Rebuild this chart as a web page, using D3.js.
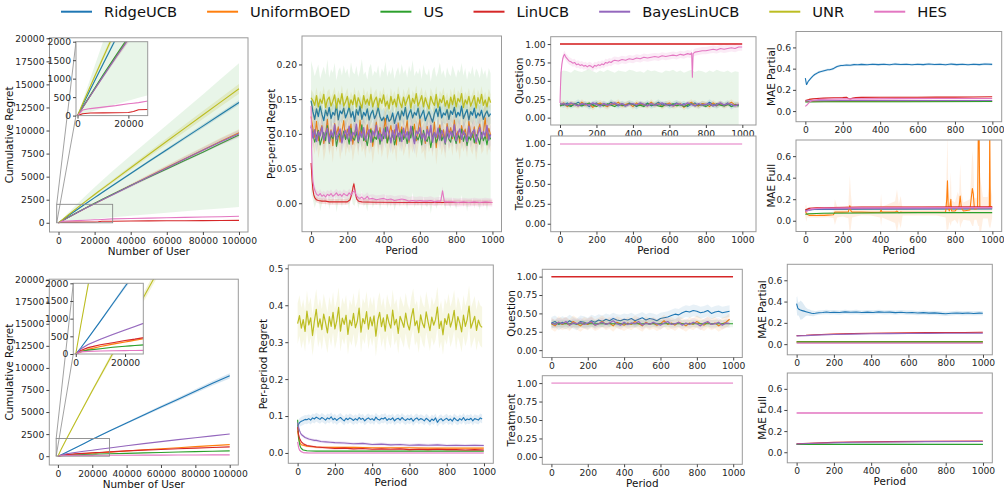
<!DOCTYPE html>
<html><head><meta charset="utf-8">
<script src="https://cdn.jsdelivr.net/npm/d3@7"></script>
<style>body{margin:0;background:#fff}svg{display:block}text{font-family:"DejaVu Sans",sans-serif}</style>
</head><body>
<script>
// ---------------- DATA ----------------
const methods = ["RidgeUCB","UniformBOED","US","LinUCB","BayesLinUCB","UNR","HES"];
const colors  = ["#1f77b4","#ff7f0e","#2ca02c","#d62728","#9467bd","#bcbd22","#e377c2"];

const cumTicks = [0,2500,5000,7500,10000,12500,15000,17500,20000];
const userTicks = [0,20000,40000,60000,80000,100000];
const insetYTicks = [0,500,1000,1500,2000];
const insetXTicks = [0,20000];
const periodTicks = [0,200,400,600,800,1000];
const ppTopTicks = [0,0.05,0.10,0.15,0.20];
const ppBotTicks = [0,0.1,0.2,0.3,0.4,0.5];
const shareTicks = [0,0.25,0.5,0.75,1.0];
const maeTicks = [0,0.2,0.4,0.6];

// cumulative regret (x = number of users)
const cumX = [0,2000,5000,10000,15000,20000,22000,24000,30000,40000,50000,60000,70000,80000,90000,100000];
const cumTopRidge   = [0,280,700,1390,2070,2730,2990,3260,4040,5340,6640,7920,9200,10480,11760,13040];
const cumTopRidgeSd = [0,8,20,40,55,70,75,80,100,120,140,160,180,200,220,240];
const cumTopUniform = [0,215,535,1065,1580,2080,2280,2480,3070,4050,5020,5990,6950,7900,8850,9750];
const cumTopUS      = [0,220,550,1095,1615,2125,2320,2515,3095,4030,4935,5840,6745,7650,8580,9510];
const cumTopUSSd    = [0,180,450,895,1310,1725,1880,2035,2505,3270,4015,4760,5505,6250,7020,7790];
const cumTopLin     = [0,50,70,75,78,82,110,160,170,190,205,215,225,235,245,255];
const cumTopBayes   = [0,212,530,1055,1565,2065,2265,2460,3050,4020,4990,5950,6900,7850,8780,9650];
const cumTopSpread  = [0,10,25,50,70,90,95,100,120,160,200,240,280,320,360,400];
const cumTopUNR     = [0,320,790,1560,2320,3060,3360,3650,4520,5960,7400,8830,10260,11680,13100,14520];
const cumTopUNRSd   = [0,15,35,70,100,130,140,150,180,230,280,330,380,430,480,530];
const cumTopHES     = [0,150,190,230,270,320,335,350,420,460,500,540,580,620,660,700];

const cumBotRidge   = [0,170,450,930,1420,1910,2100,2290,2860,3760,4660,5560,6460,7360,8260,9100];
const cumBotRidgeSd = [0,5,15,30,45,60,65,70,85,110,140,170,200,230,260,290];
const cumBotUniform = [0,60,130,210,280,340,365,390,460,590,720,840,960,1080,1200,1310];
const cumBotUS      = [0,70,110,150,190,220,230,240,270,320,370,420,470,510,560,600];
const cumBotLin     = [0,100,180,260,320,380,400,420,490,600,680,760,840,910,980,1050];
const cumBotBayes   = [0,140,270,420,550,680,730,780,930,1180,1420,1650,1870,2090,2300,2510];
const cumBotUNR     = [0,800,1950,3800,5600,7400,8110,8820,10950,14500,18050,21600,25150,28700,32250,35800];
const cumBotUNRSd   = [0,20,50,100,150,200,220,240,300,400,500,600,700,800,900,1000];
const cumBotHES     = [0,60,75,85,90,95,97,99,105,112,118,124,130,137,143,150];

// per-period regret, top row (sampled every 10 periods)
const ppTopUNR = [0.152,0.148,0.141,0.155,0.139,0.150,0.144,0.157,0.138,0.149,0.153,0.140,0.147,0.156,0.137,0.151,0.143,0.158,0.140,0.146,0.154,0.138,0.149,0.142,0.156,0.139,0.152,0.145,0.137,0.155,0.143,0.150,0.141,0.157,0.139,0.148,0.153,0.138,0.151,0.144,0.156,0.140,0.147,0.136,0.154,0.142,0.150,0.139,0.157,0.145,0.138,0.153,0.141,0.149,0.156,0.137,0.151,0.144,0.158,0.140,0.147,0.155,0.139,0.152,0.143,0.136,0.154,0.146,0.141,0.157,0.138,0.150,0.145,0.155,0.140,0.148,0.137,0.153,0.142,0.156,0.139,0.151,0.146,0.158,0.138,0.149,0.143,0.154,0.140,0.147,0.155,0.137,0.152,0.144,0.157,0.141,0.149,0.139,0.153,0.145];
const ppTopRidge = [0.148,0.132,0.121,0.136,0.125,0.140,0.128,0.119,0.134,0.126,0.138,0.122,0.131,0.127,0.141,0.120,0.133,0.129,0.137,0.123,0.130,0.139,0.124,0.132,0.118,0.135,0.127,0.140,0.121,0.131,0.126,0.136,0.120,0.129,0.134,0.122,0.128,0.138,0.125,0.119,0.124,0.116,0.127,0.118,0.121,0.130,0.115,0.125,0.132,0.120,0.133,0.126,0.138,0.121,0.129,0.135,0.123,0.131,0.127,0.137,0.122,0.128,0.134,0.119,0.126,0.132,0.124,0.117,0.129,0.136,0.125,0.139,0.123,0.130,0.127,0.135,0.121,0.133,0.128,0.138,0.124,0.131,0.126,0.140,0.122,0.129,0.135,0.120,0.132,0.127,0.137,0.123,0.130,0.126,0.134,0.121,0.128,0.133,0.125,0.129];
const ppTopUniform = [0.125,0.108,0.095,0.118,0.090,0.104,0.112,0.086,0.100,0.121,0.094,0.106,0.083,0.115,0.099,0.110,0.088,0.103,0.119,0.092,0.107,0.097,0.114,0.085,0.101,0.111,0.093,0.120,0.098,0.105,0.089,0.113,0.096,0.108,0.082,0.102,0.117,0.094,0.109,0.091,0.104,0.122,0.087,0.100,0.112,0.095,0.106,0.084,0.116,0.099,0.110,0.093,0.103,0.119,0.088,0.107,0.097,0.114,0.090,0.105,0.121,0.096,0.101,0.086,0.111,0.098,0.108,0.092,0.117,0.080,0.103,0.113,0.094,0.106,0.089,0.115,0.100,0.109,0.093,0.120,0.097,0.104,0.087,0.112,0.099,0.107,0.091,0.118,0.102,0.095,0.110,0.086,0.105,0.114,0.096,0.101,0.123,0.093,0.108,0.098];
const ppTopUS = [0.110,0.100,0.088,0.097,0.105,0.084,0.094,0.102,0.090,0.112,0.086,0.098,0.093,0.107,0.082,0.096,0.101,0.089,0.104,0.092,0.099,0.085,0.108,0.094,0.091,0.103,0.087,0.097,0.113,0.090,0.095,0.083,0.100,0.106,0.088,0.096,0.092,0.104,0.085,0.099,0.093,0.109,0.087,0.097,0.090,0.102,0.084,0.095,0.101,0.089,0.106,0.092,0.098,0.086,0.103,0.094,0.111,0.088,0.096,0.091,0.100,0.084,0.105,0.093,0.089,0.099,0.080,0.096,0.102,0.087,0.094,0.108,0.090,0.097,0.085,0.101,0.092,0.088,0.104,0.095,0.086,0.098,0.093,0.107,0.089,0.100,0.083,0.096,0.091,0.103,0.087,0.099,0.094,0.085,0.102,0.090,0.097,0.084,0.100,0.092];
const ppTopBayes = [0.112,0.094,0.106,0.089,0.103,0.097,0.110,0.091,0.101,0.108,0.088,0.104,0.096,0.113,0.092,0.100,0.107,0.087,0.099,0.105,0.093,0.111,0.090,0.102,0.098,0.114,0.089,0.103,0.095,0.109,0.091,0.100,0.106,0.088,0.104,0.097,0.112,0.093,0.101,0.090,0.107,0.094,0.110,0.099,0.087,0.105,0.092,0.113,0.096,0.102,0.089,0.108,0.095,0.103,0.091,0.111,0.098,0.086,0.104,0.100,0.109,0.093,0.101,0.090,0.106,0.097,0.112,0.088,0.102,0.095,0.108,0.091,0.105,0.099,0.087,0.110,0.094,0.103,0.096,0.113,0.090,0.101,0.107,0.092,0.104,0.098,0.089,0.111,0.095,0.102,0.106,0.088,0.100,0.109,0.093,0.103,0.097,0.112,0.091,0.099];
const ppTopLin = [[0,0.058],[3,0.045],[6,0.032],[10,0.02],[15,0.012],[20,0.008],[30,0.005],[40,0.004],[60,0.003],[80,0.003],[100,0.002],[150,0.002],[200,0.002],[215,0.005],[225,0.014],[232,0.024],[236,0.028],[240,0.022],[245,0.013],[252,0.006],[262,0.003],[280,0.002],[350,0.0015],[500,0.001],[700,0.001],[999,0.001]];
const ppTopHES = [[0,0.140],[3,0.080],[6,0.050],[10,0.032],[15,0.024],[20,0.019],[25,0.016],[30,0.013],[40,0.011],[50,0.014],[60,0.010],[70,0.012],[80,0.009],[90,0.013],[100,0.011],[110,0.014],[120,0.010],[130,0.012],[140,0.015],[150,0.011],[160,0.013],[170,0.010],[180,0.014],[190,0.012],[200,0.011],[210,0.015],[220,0.012],[230,0.016],[240,0.018],[250,0.011],[260,0.008],[270,0.007],[280,0.009],[290,0.006],[300,0.007],[310,0.010],[320,0.006],[340,0.007],[360,0.005],[380,0.006],[400,0.007],[420,0.005],[440,0.006],[460,0.004],[480,0.005],[500,0.006],[520,0.005],[540,0.003],[560,0.004],[580,0.003],[600,0.004],[620,0.003],[640,0.003],[660,0.004],[680,0.002],[700,0.003],[715,0.003],[725,0.018],[735,0.002],[750,0.002],[780,0.002],[810,0.001],[840,0.002],[870,0.001],[900,0.002],[930,0.001],[960,0.002],[999,0.001]];

// per-period regret, bottom row
const ppBotUNR = [0.350,0.372,0.338,0.361,0.329,0.384,0.347,0.366,0.318,0.357,0.389,0.341,0.363,0.334,0.376,0.352,0.325,0.369,0.343,0.381,0.336,0.358,0.394,0.330,0.365,0.348,0.373,0.321,0.360,0.345,0.378,0.339,0.356,0.392,0.327,0.364,0.350,0.383,0.335,0.368,0.344,0.371,0.316,0.359,0.381,0.342,0.366,0.330,0.375,0.353,0.338,0.387,0.347,0.362,0.324,0.370,0.356,0.340,0.379,0.349,0.333,0.367,0.391,0.345,0.358,0.326,0.374,0.351,0.339,0.382,0.355,0.331,0.368,0.346,0.361,0.395,0.337,0.357,0.320,0.364,0.348,0.377,0.341,0.359,0.386,0.334,0.369,0.352,0.328,0.373,0.343,0.362,0.398,0.338,0.354,0.370,0.332,0.360,0.345,0.340];
const ppBotRidge = [0.072,0.082,0.086,0.088,0.091,0.090,0.093,0.089,0.095,0.092,0.097,0.094,0.091,0.096,0.093,0.089,0.095,0.092,0.098,0.090,0.094,0.088,0.093,0.096,0.091,0.087,0.094,0.090,0.095,0.092,0.088,0.093,0.089,0.096,0.091,0.094,0.087,0.092,0.095,0.090,0.093,0.088,0.097,0.091,0.089,0.094,0.092,0.096,0.088,0.093,0.090,0.095,0.087,0.092,0.094,0.089,0.096,0.091,0.088,0.093,0.090,0.094,0.086,0.092,0.095,0.089,0.093,0.091,0.087,0.094,0.090,0.085,0.092,0.088,0.095,0.083,0.090,0.093,0.087,0.091,0.094,0.088,0.092,0.086,0.095,0.090,0.087,0.093,0.089,0.096,0.088,0.092,0.090,0.094,0.087,0.093,0.091,0.089,0.095,0.092];
const ppBotBayes = [[0,0.082],[5,0.07],[10,0.061],[15,0.055],[20,0.05],[30,0.046],[40,0.042],[50,0.04],[60,0.038],[75,0.036],[90,0.034],[100,0.034],[125,0.031],[150,0.03],[175,0.029],[200,0.028],[250,0.027],[300,0.025],[350,0.026],[400,0.023],[450,0.024],[500,0.022],[550,0.023],[600,0.021],[650,0.022],[700,0.021],[750,0.022],[800,0.02],[850,0.021],[900,0.02],[950,0.021],[999,0.02]];
const ppBotLin = [[0,0.07],[5,0.05],[10,0.04],[20,0.03],[30,0.025],[50,0.02],[75,0.018],[100,0.016],[150,0.014],[200,0.012],[250,0.013],[300,0.011],[350,0.012],[400,0.01],[450,0.011],[500,0.01],[550,0.011],[600,0.009],[650,0.01],[700,0.009],[750,0.01],[800,0.009],[850,0.009],[900,0.008],[950,0.009],[999,0.008]];
const ppBotUniform = [[0,0.06],[5,0.04],[10,0.03],[20,0.022],[50,0.018],[100,0.016],[200,0.015],[300,0.015],[400,0.014],[500,0.014],[600,0.014],[700,0.013],[800,0.013],[900,0.013],[999,0.013]];
const ppBotUS = [[0,0.09],[3,0.06],[6,0.04],[10,0.025],[15,0.016],[20,0.012],[30,0.008],[50,0.006],[100,0.005],[999,0.005]];
const ppBotHES = [[0,0.03],[5,0.015],[10,0.008],[20,0.003],[30,0.001],[60,0.0],[999,0.0]];

// question share (sampled every 20 periods)
const qTopRidge   = [0.19,0.17,0.20,0.16,0.18,0.21,0.17,0.19,0.15,0.18,0.20,0.16,0.19,0.17,0.21,0.18,0.16,0.19,0.17,0.20,0.18,0.15,0.19,0.17,0.20,0.16,0.18,0.21,0.17,0.19,0.16,0.18,0.20,0.17,0.19,0.15,0.18,0.20,0.16,0.19,0.17,0.21,0.18,0.16,0.19,0.17,0.20,0.15,0.18,0.17];
const qTopUniform = [0.17,0.20,0.15,0.19,0.18,0.16,0.21,0.17,0.19,0.14,0.18,0.20,0.17,0.15,0.19,0.18,0.21,0.16,0.18,0.19,0.15,0.20,0.17,0.18,0.16,0.21,0.17,0.19,0.15,0.18,0.20,0.16,0.17,0.19,0.14,0.18,0.21,0.17,0.16,0.19,0.18,0.15,0.20,0.17,0.19,0.16,0.18,0.21,0.17,0.18];
const qTopUS      = [0.16,0.18,0.17,0.15,0.19,0.17,0.16,0.18,0.20,0.17,0.15,0.18,0.16,0.19,0.17,0.15,0.18,0.17,0.16,0.19,0.18,0.16,0.17,0.15,0.19,0.17,0.18,0.16,0.15,0.18,0.17,0.19,0.16,0.18,0.15,0.17,0.19,0.16,0.18,0.17,0.15,0.18,0.16,0.19,0.17,0.16,0.18,0.15,0.17,0.16];
const qTopBayes   = [0.18,0.19,0.17,0.20,0.18,0.16,0.19,0.18,0.17,0.20,0.18,0.16,0.19,0.17,0.18,0.20,0.17,0.19,0.16,0.18,0.19,0.17,0.20,0.18,0.16,0.19,0.17,0.18,0.20,0.17,0.18,0.16,0.19,0.18,0.17,0.20,0.18,0.16,0.19,0.17,0.18,0.19,0.16,0.18,0.20,0.17,0.19,0.18,0.16,0.18];
const qTopLin = [[0,1],[999,1]];
const qTopHES = [[0,0.20],[3,0.45],[6,0.62],[10,0.72],[15,0.80],[20,0.84],[25,0.86],[30,0.83],[40,0.80],[50,0.77],[60,0.76],[70,0.74],[80,0.75],[90,0.72],[100,0.73],[110,0.71],[120,0.72],[130,0.70],[140,0.71],[150,0.69],[160,0.71],[170,0.70],[180,0.68],[190,0.71],[200,0.70],[210,0.72],[220,0.71],[230,0.73],[240,0.72],[250,0.75],[260,0.74],[270,0.76],[280,0.75],[290,0.77],[300,0.78],[320,0.77],[340,0.79],[360,0.78],[380,0.80],[400,0.79],[420,0.81],[440,0.80],[460,0.82],[480,0.81],[500,0.82],[520,0.83],[540,0.82],[560,0.84],[580,0.83],[600,0.84],[620,0.85],[640,0.84],[660,0.86],[680,0.85],[700,0.87],[715,0.86],[722,0.88],[726,0.55],[730,0.87],[740,0.89],[760,0.90],[780,0.91],[800,0.91],[820,0.92],[840,0.93],[860,0.92],[880,0.94],[900,0.93],[920,0.94],[940,0.95],[960,0.94],[980,0.96],[999,0.96]];
const tTopHES = [[0,1],[999,1]];

const qBotRidge   = [0.37,0.39,0.35,0.38,0.36,0.40,0.37,0.35,0.39,0.38,0.36,0.40,0.38,0.41,0.39,0.42,0.40,0.43,0.41,0.40,0.42,0.41,0.43,0.40,0.42,0.44,0.41,0.43,0.42,0.40,0.43,0.44,0.45,0.47,0.49,0.48,0.51,0.53,0.52,0.54,0.53,0.51,0.52,0.54,0.50,0.52,0.53,0.51,0.52,0.53];
const qBotUniform = [0.36,0.33,0.38,0.35,0.37,0.34,0.39,0.36,0.33,0.37,0.35,0.38,0.34,0.36,0.39,0.35,0.37,0.33,0.38,0.36,0.34,0.37,0.35,0.39,0.36,0.33,0.38,0.35,0.37,0.34,0.36,0.40,0.35,0.37,0.34,0.38,0.36,0.33,0.37,0.35,0.39,0.36,0.34,0.38,0.35,0.37,0.33,0.36,0.38,0.42];
const qBotBayes   = [0.37,0.35,0.38,0.36,0.39,0.34,0.37,0.36,0.38,0.35,0.37,0.39,0.34,0.36,0.38,0.35,0.37,0.40,0.36,0.34,0.38,0.35,0.37,0.36,0.39,0.34,0.37,0.35,0.38,0.36,0.34,0.37,0.39,0.35,0.36,0.38,0.34,0.37,0.35,0.38,0.36,0.33,0.37,0.39,0.35,0.36,0.38,0.34,0.37,0.36];
const qBotUS  = [[0,0.36],[999,0.36]];
const qBotLin = [[0,1],[999,1]];
const tBotHES = [[0,1],[999,1]];

// MAE
const maePTopRidge = [[0,0.31],[3,0.28],[6,0.25],[10,0.26],[15,0.28],[20,0.29],[30,0.31],[40,0.33],[50,0.345],[60,0.355],[70,0.365],[80,0.37],[90,0.375],[100,0.38],[110,0.385],[120,0.39],[130,0.39],[140,0.395],[150,0.40],[160,0.41],[170,0.42],[180,0.425],[190,0.43],[200,0.43],[220,0.435],[240,0.432],[260,0.438],[280,0.436],[300,0.44],[330,0.437],[360,0.442],[390,0.438],[420,0.441],[450,0.437],[480,0.443],[510,0.439],[540,0.441],[570,0.437],[600,0.442],[630,0.438],[660,0.444],[690,0.439],[720,0.441],[750,0.437],[780,0.443],[810,0.438],[840,0.441],[870,0.437],[900,0.442],[930,0.438],[960,0.444],[999,0.44]];
const maePTopLin = [[0,0.10],[10,0.105],[20,0.11],[40,0.115],[60,0.118],[100,0.122],[150,0.125],[200,0.128],[220,0.13],[230,0.118],[240,0.115],[255,0.122],[270,0.127],[300,0.129],[400,0.13],[500,0.131],[600,0.131],[700,0.132],[800,0.132],[900,0.133],[999,0.135]];
const maePTopHES = [[0,0.045],[10,0.06],[20,0.08],[30,0.095],[50,0.105],[80,0.11],[120,0.112],[200,0.115],[300,0.115],[500,0.117],[700,0.118],[999,0.118]];
const maePTopBayes = [[0,0.095],[50,0.098],[200,0.1],[500,0.1],[999,0.1]];
const maePTopUniform = [[0,0.09],[100,0.09],[500,0.092],[999,0.093]];
const maePTopUS = [[0,0.085],[100,0.088],[500,0.088],[999,0.09]];

const maeFTopUniform = [[0,0.09,0.05],[5,0.07,0.08],[10,0.06,0.03],[20,0.05,0.02],[40,0.05,0.02],[60,0.048,0.02],[80,0.05,0.02],[100,0.05,0.02],[120,0.052,0.02],[150,0.055,0.03],[158,0.08,0.12],[170,0.08,0.05],[200,0.08,0.04],[230,0.082,0.06],[238,0.14,0.28],[244,0.09,0.15],[250,0.08,0.05],[300,0.08,0.03],[350,0.078,0.03],[400,0.08,0.05],[405,0.1,0.15],[410,0.08,0.05],[480,0.08,0.1],[490,0.09,0.2],[500,0.075,0.08],[510,0.08,0.15],[520,0.078,0.03],[600,0.078,0.03],[700,0.078,0.03],[750,0.08,0.05],[756,0.2,0.3],[760,0.37,0.45],[764,0.12,0.2],[770,0.09,0.1],[778,0.2,0.25],[782,0.09,0.1],[800,0.09,0.08],[815,0.12,0.15],[822,0.13,0.1],[828,0.23,0.3],[834,0.12,0.15],[845,0.09,0.08],[880,0.1,0.1],[893,0.3,0.35],[898,0.25,0.3],[904,0.11,0.1],[915,0.11,0.1],[921,0.12,0.15],[925,0.85,0.9],[929,0.85,0.9],[933,0.12,0.3],[950,0.12,0.1],[975,0.12,0.1],[984,0.13,0.2],[986,0.85,0.9],[989,0.13,0.2],[999,0.13,0.1]];
const maeFTopUS = [[0,0.06],[20,0.065],[100,0.07],[300,0.072],[600,0.075],[999,0.075]];
const maeFTopRidge = [[0,0.1],[50,0.105],[300,0.108],[999,0.11]];
const maeFTopLin = [[0,0.1],[20,0.115],[60,0.12],[150,0.123],[300,0.127],[600,0.128],[999,0.13]];
const maeFTopBayes = [[0,0.09],[50,0.11],[300,0.115],[999,0.12]];
const maeFTopHES = [[0,0.08],[30,0.11],[100,0.118],[500,0.12],[999,0.122]];

const maePBotRidge = [[0,0.38,0.06],[3,0.36,0.09],[6,0.34,0.07],[10,0.33,0.06],[15,0.325,0.07],[20,0.32,0.09],[30,0.315,0.08],[40,0.31,0.06],[50,0.305,0.04],[60,0.30,0.03],[70,0.295,0.03],[80,0.29,0.025],[90,0.288,0.025],[100,0.29,0.02],[120,0.295,0.02],[140,0.298,0.02],[160,0.302,0.02],[180,0.298,0.02],[200,0.30,0.02],[230,0.297,0.02],[260,0.303,0.02],[290,0.299,0.02],[320,0.302,0.02],[350,0.297,0.02],[380,0.301,0.02],[410,0.298,0.02],[440,0.303,0.02],[470,0.299,0.02],[500,0.301,0.02],[530,0.296,0.02],[560,0.300,0.02],[590,0.295,0.02],[620,0.297,0.02],[650,0.292,0.02],[680,0.296,0.02],[710,0.291,0.02],[740,0.294,0.02],[770,0.289,0.02],[800,0.285,0.02],[830,0.29,0.02],[860,0.293,0.02],[890,0.289,0.02],[920,0.292,0.02],[950,0.288,0.02],[980,0.291,0.02],[999,0.29,0.02]];
const maePBotLin = [[0,0.08],[50,0.083],[100,0.088],[200,0.095],[300,0.1],[400,0.102],[500,0.105],[600,0.106],[700,0.108],[800,0.11],[900,0.11],[999,0.112]];
const maePBotBayes = [[0,0.078],[50,0.08],[100,0.085],[200,0.09],[300,0.094],[400,0.097],[500,0.099],[600,0.1],[700,0.101],[800,0.102],[999,0.103]];
const maePBotUniform = [[0,0.022],[999,0.022]];
const maePBotUS = [[0,0.02],[999,0.02]];
const maePBotHES = [[0,0.01],[999,0.01]];

const maeFBotHES = [[0,0.372],[999,0.372]];
const maeFBotLin = [[0,0.08],[100,0.088],[200,0.093],[300,0.097],[500,0.1],[700,0.103],[999,0.105]];
const maeFBotBayes = [[0,0.078],[100,0.085],[200,0.09],[300,0.094],[500,0.097],[700,0.1],[999,0.102]];
const maeFBotRidge = [[0,0.075],[999,0.073]];
const maeFBotUS = [[0,0.074],[999,0.074]];

// ---------------- DRAW ----------------
const [CB,CO,CG,CR,CP,CY,CK] = colors;
const TICK_FS = 9.2, LABEL_FS = 10.4;
const zip = (xs, ys, sds) => ys.map((v,i)=> sds ? [xs[i], v, sds[i]] : [xs[i], v]);
const grid = (step, ys) => ys.map((v,i)=>[i*step, v]);

const svg = d3.select("body").append("svg").attr("width",1004).attr("height",491);
let clipN = 0;

function panel(p){
  const g = svg.append("g");
  const xs = d3.scaleLinear().domain(p.xd).range([p.x0,p.x1]);
  const ys = d3.scaleLinear().domain(p.yd).range([p.y1,p.y0]);
  g.append("rect").attr("x",p.x0).attr("y",p.y0).attr("width",p.x1-p.x0).attr("height",p.y1-p.y0).attr("fill","#fff");
  const id = "clip"+(clipN++);
  svg.append("clipPath").attr("id",id).append("rect").attr("x",p.x0).attr("y",p.y0).attr("width",p.x1-p.x0).attr("height",p.y1-p.y0);
  const pg = g.append("g").attr("clip-path",`url(#${id})`);
  p.series.forEach(s=>{
    if(s.sd!==undefined){
      const sdv = d => d.length>2 ? d[2] : s.sd;
      const area = d3.area().x(d=>xs(d[0])).y0(d=>ys(d[1]-sdv(d))).y1(d=>ys(d[1]+sdv(d)));
      pg.append("path").attr("d",area(s.d)).attr("fill",s.c).attr("fill-opacity",s.bo||0.15).attr("stroke","none");
    }
    const line = d3.line().x(d=>xs(d[0])).y(d=>ys(d[1]));
    pg.append("path").attr("d",line(s.d)).attr("fill","none").attr("stroke",s.c)
      .attr("stroke-width",s.w||1.1).attr("stroke-opacity",s.op||1).attr("stroke-linejoin","round");
  });
  g.append("rect").attr("x",p.x0).attr("y",p.y0).attr("width",p.x1-p.x0).attr("height",p.y1-p.y0)
    .attr("fill","none").attr("stroke","#9a9a9a").attr("stroke-width",1);
  const xa = g.append("g").attr("transform",`translate(0,${p.y1})`)
    .call(d3.axisBottom(xs).tickValues(p.xt).tickFormat(p.xf).tickSize(3).tickPadding(2));
  const ya = g.append("g").attr("transform",`translate(${p.x0},0)`)
    .call(d3.axisLeft(ys).tickValues(p.yt).tickFormat(p.yf).tickSize(3).tickPadding(2));
  [xa,ya].forEach(a=>{
    a.select(".domain").remove();
    a.selectAll("line").attr("stroke","#444");
    a.selectAll("text").attr("font-size",TICK_FS).attr("fill","#262626").attr("font-family","DejaVu Sans");
  });
  if(p.ylabel){
    const w = d3.max(ya.selectAll("text").nodes(), n=>n.getComputedTextLength());
    const lx = p.x0 - w - 10.5, cy = (p.y0+p.y1)/2;
    g.append("text").attr("transform",`translate(${lx},${cy}) rotate(-90)`).attr("text-anchor","middle")
      .attr("dy","0.35em").attr("font-size",LABEL_FS).attr("fill","#111").text(p.ylabel);
  }
  if(p.xlabel){
    g.append("text").attr("x",(p.x0+p.x1)/2).attr("y",p.y1+22.5).attr("text-anchor","middle")
      .attr("font-size",LABEL_FS).attr("fill","#111").text(p.xlabel);
  }
  return {xs, ys};
}

const fInt = d3.format("d"), f2 = d3.format(".2f"), f1 = d3.format(".1f");
const insetRect = [-1000, 30000, 0, 2000];

function cumPanel(box, inset, S){
  const main = panel({x0:box[0],x1:box[1],y0:box[2],y1:box[3],xd:[-5000,105000],yd:[-1000,20050],
    xt:userTicks,yt:cumTicks,xf:fInt,yf:fInt,xlabel:"Number of User",ylabel:"Cumulative Regret",series:S});
  const rx0 = main.xs(insetRect[0]), rx1 = main.xs(insetRect[1]), ry0 = main.ys(insetRect[3]), ry1 = main.ys(insetRect[2]);
  svg.append("rect").attr("x",rx0).attr("y",ry0).attr("width",rx1-rx0).attr("height",ry1-ry0)
    .attr("fill","none").attr("stroke","#8a8a8a").attr("stroke-width",0.9);
  svg.append("line").attr("x1",rx0).attr("y1",ry0).attr("x2",inset[0]).attr("y2",inset[2]).attr("stroke","#8a8a8a").attr("stroke-width",0.8);
  svg.append("line").attr("x1",rx0).attr("y1",ry1).attr("x2",inset[0]).attr("y2",inset[3]).attr("stroke","#8a8a8a").attr("stroke-width",0.8);
  panel({x0:inset[0],x1:inset[1],y0:inset[2],y1:inset[3],xd:inset[4],yd:[0,2000],
    xt:insetXTicks,yt:insetYTicks,xf:fInt,yf:fInt,series:S});
}

cumPanel([49.5,248,37.8,232],[76,147.7,41.7,115.6,[-600,27600]],[
  {c:CB,d:zip(cumX,cumTopRidge,cumTopRidgeSd),sd:0,bo:0.18},
  {c:CO,d:zip(cumX,cumTopUniform,cumTopSpread),sd:0,bo:0.15},
  {c:CG,d:zip(cumX,cumTopUS,cumTopUSSd),sd:0,bo:0.11},
  {c:CR,d:zip(cumX,cumTopLin),sd:8,bo:0.15},
  {c:CP,d:zip(cumX,cumTopBayes,cumTopSpread),sd:0,bo:0.15},
  {c:CY,d:zip(cumX,cumTopUNR,cumTopUNRSd),sd:0,bo:0.18},
  {c:CK,d:zip(cumX,cumTopHES),sd:10,bo:0.15}
]);
cumPanel([49.3,238.3,279.2,465],[73.3,143.3,283.3,354,[-1000,27400]],[
  {c:CB,d:zip(cumX,cumBotRidge,cumBotRidgeSd),sd:0,bo:0.18},
  {c:CO,d:zip(cumX,cumBotUniform),sd:25,bo:0.15},
  {c:CG,d:zip(cumX,cumBotUS),sd:15,bo:0.15},
  {c:CR,d:zip(cumX,cumBotLin),sd:15,bo:0.15},
  {c:CP,d:zip(cumX,cumBotBayes),sd:20,bo:0.15},
  {c:CY,d:zip(cumX,cumBotUNR,cumBotUNRSd),sd:0,bo:0.18},
  {c:CK,d:zip(cumX,cumBotHES),sd:10,bo:0.15}
]);

panel({x0:302,x1:501.5,y0:36,y1:231.7,xd:[-50,1050],yd:[-0.041,0.241],xt:periodTicks,yt:ppTopTicks,
  xf:fInt,yf:f2,xlabel:"Period",ylabel:"Per-period Regret",series:[
  {c:CB,d:grid(10,ppTopRidge),sd:0.014,bo:0.15,w:1.3},
  {c:CO,d:grid(10,ppTopUniform),sd:0.025,bo:0.12},
  {c:CG,d:grid(10,ppTopUS),sd:0.095,bo:0.1},
  {c:CR,d:ppTopLin,sd:0.004,bo:0.15},
  {c:CP,d:grid(10,ppTopBayes),sd:0.015,bo:0.15,w:1.4},
  {c:CY,d:grid(10,ppTopUNR),sd:0.012,bo:0.15,w:1.3},
  {c:CK,d:ppTopHES,sd:0.006,bo:0.15}
]});
panel({x0:288.3,x1:493.3,y0:265,y1:463.3,xd:[-50,1050],yd:[-0.028,0.509],xt:periodTicks,yt:ppBotTicks,
  xf:fInt,yf:f1,xlabel:"Period",ylabel:"Per-period Regret",series:[
  {c:CB,d:grid(10,ppBotRidge),sd:0.012,bo:0.12},
  {c:CO,d:ppBotUniform,sd:0.003,bo:0.15},
  {c:CG,d:ppBotUS,sd:0.002,bo:0.15},
  {c:CR,d:ppBotLin,sd:0.003,bo:0.15},
  {c:CP,d:ppBotBayes,sd:0.004,bo:0.15},
  {c:CY,d:grid(10,ppBotUNR),sd:0.055,bo:0.12,w:1.2},
  {c:CK,d:ppBotHES,sd:0.002,bo:0.15}
]});

panel({x0:550.7,x1:756,y0:36.7,y1:125,xd:[-51,1075],yd:[-0.1,1.1],xt:periodTicks,yt:shareTicks,
  xf:fInt,yf:f2,ylabel:"Question",series:[
  {c:CB,d:grid(20,qTopRidge),sd:0.04,bo:0.12},
  {c:CO,d:grid(20,qTopUniform),sd:0.04,bo:0.12},
  {c:CG,d:grid(20,qTopUS),sd:0.46,bo:0.1},
  {c:CR,d:qTopLin,sd:0.01,bo:0.3,w:1.6},
  {c:CP,d:grid(20,qTopBayes),sd:0.03,bo:0.12,w:1.3},
  {c:CK,d:qTopHES,sd:0.05,bo:0.15}
]});
panel({x0:550.7,x1:756,y0:136,y1:231.7,xd:[-51,1075],yd:[-0.1,1.1],xt:periodTicks,yt:shareTicks,
  xf:fInt,yf:f2,xlabel:"Period",ylabel:"Treatment",series:[
  {c:CK,d:tTopHES,w:1.2}
]});
panel({x0:542.3,x1:742.3,y0:269.3,y1:357.5,xd:[-50,1050],yd:[-0.1,1.1],xt:periodTicks,yt:shareTicks,
  xf:fInt,yf:f2,ylabel:"Question",series:[
  {c:CB,d:grid(20,qBotRidge),sd:0.08,bo:0.1},
  {c:CO,d:grid(20,qBotUniform),sd:0.08,bo:0.1},
  {c:CG,d:qBotUS,sd:0.05,bo:0.08},
  {c:CR,d:qBotLin,sd:0.005,bo:0.3,w:1.5},
  {c:CP,d:grid(20,qBotBayes),sd:0.06,bo:0.1,w:1.2}
]});
panel({x0:542.3,x1:742.3,y0:375.7,y1:464.3,xd:[-50,1050],yd:[-0.1,1.1],xt:periodTicks,yt:shareTicks,
  xf:fInt,yf:f2,xlabel:"Period",ylabel:"Treatment",series:[
  {c:CK,d:tBotHES,w:1.6,op:0.6}
]});

panel({x0:796,x1:1001.7,y0:31.5,y1:121.7,xd:[-50,1050],yd:[-0.1,0.75],xt:periodTicks,yt:maeTicks,
  xf:fInt,yf:f1,ylabel:"MAE Partial",series:[
  {c:CB,d:maePTopRidge,sd:0.012,bo:0.15},
  {c:CO,d:maePTopUniform,sd:0.006,bo:0.15},
  {c:CG,d:maePTopUS,sd:0.006,bo:0.15},
  {c:CR,d:maePTopLin,sd:0.006,bo:0.15},
  {c:CP,d:maePTopBayes,sd:0.006,bo:0.15},
  {c:CK,d:maePTopHES,sd:0.006,bo:0.15}
]});
panel({x0:796,x1:1001.7,y0:140,y1:231.5,xd:[-50,1050],yd:[-0.1,0.75],xt:periodTicks,yt:maeTicks,
  xf:fInt,yf:f1,xlabel:"Period",ylabel:"MAE Full",series:[
  {c:CB,d:maeFTopRidge,sd:0.008,bo:0.15},
  {c:CO,d:maeFTopUniform,sd:0,bo:0.12},
  {c:CG,d:maeFTopUS,sd:0.006,bo:0.15},
  {c:CR,d:maeFTopLin,sd:0.008,bo:0.15},
  {c:CP,d:maeFTopBayes,sd:0.008,bo:0.15},
  {c:CK,d:maeFTopHES,sd:0.008,bo:0.15}
]});
panel({x0:787.3,x1:992.3,y0:264.3,y1:354.8,xd:[-50,1050],yd:[-0.1,0.75],xt:periodTicks,yt:maeTicks,
  xf:fInt,yf:f1,ylabel:"MAE Partial",series:[
  {c:CB,d:maePBotRidge,sd:0,bo:0.15},
  {c:CO,d:maePBotUniform,sd:0.003,bo:0.15,w:1.4},
  {c:CG,d:maePBotUS,sd:0.003,bo:0.15,w:1.4},
  {c:CR,d:maePBotLin,sd:0.004,bo:0.15},
  {c:CP,d:maePBotBayes,sd:0.004,bo:0.15},
  {c:CK,d:maePBotHES,sd:0.003,bo:0.15}
]});
panel({x0:787.3,x1:992.3,y0:373,y1:462.8,xd:[-50,1050],yd:[-0.1,0.75],xt:periodTicks,yt:maeTicks,
  xf:fInt,yf:f1,xlabel:"Period",ylabel:"MAE Full",series:[
  {c:CB,d:maeFBotRidge,sd:0.004,bo:0.15},
  {c:CG,d:maeFBotUS,sd:0.003,bo:0.15},
  {c:CR,d:maeFBotLin,sd:0.004,bo:0.15},
  {c:CP,d:maeFBotBayes,sd:0.004,bo:0.15},
  {c:CK,d:maeFBotHES,sd:0.004,bo:0.2,w:1.5}
]});

// legend
const leg = svg.append("g");
let lx = 61;
methods.forEach((m,i)=>{
  leg.append("line").attr("x1",lx).attr("x2",lx+31).attr("y1",11.7).attr("y2",11.7).attr("stroke",colors[i]).attr("stroke-width",2);
  const t = leg.append("text").attr("x",lx+43).attr("y",11.7).attr("dy","0.35em").attr("font-size",14.7).attr("fill","#111").text(m);
  lx += 43 + t.node().getComputedTextLength() + 30;
});
</script>
</body></html>
